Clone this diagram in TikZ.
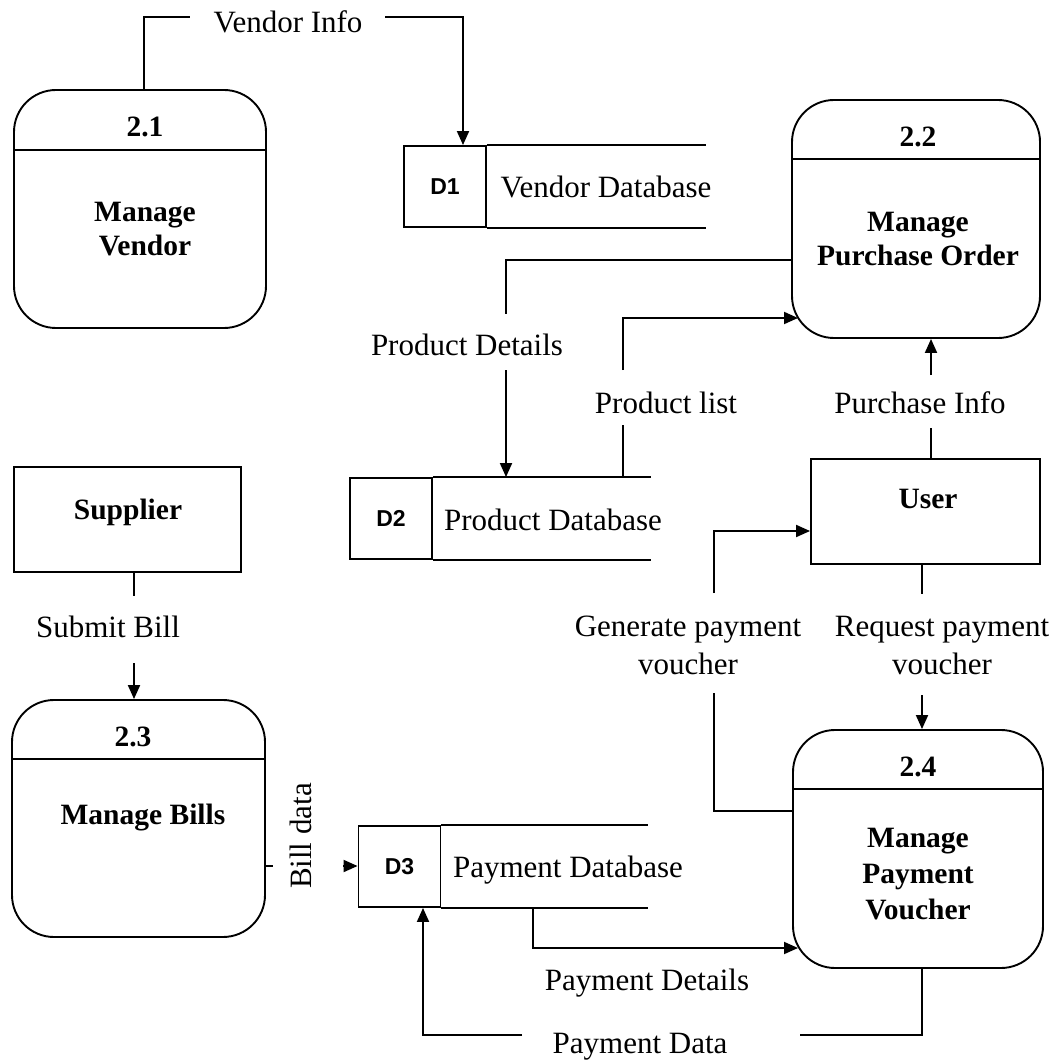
\documentclass[tikz,border=0pt]{standalone}
\usepackage{fontspec}
\setmainfont{Liberation Serif}
\newfontfamily\dsans{Liberation Sans}
\usetikzlibrary{arrows.meta}
\newcommand\lab{\fontsize{31}{38}\selectfont}
\newcommand\blab{\fontsize{29.5}{34.5}\selectfont\bfseries}
\newcommand\dlab{\fontsize{23}{26}\selectfont\dsans\bfseries}
\begin{document}
\begin{tikzpicture}[x=1pt,y=-1pt,
  every path/.style={line width=1.9pt},
  >={Triangle[length=14pt,width=12pt]},
  proc/.style={draw, rounded corners=42pt, inner sep=0pt},
  ent/.style={draw, inner sep=0pt},
  dsid/.style={draw, inner sep=0pt, font=\dlab, minimum width=82pt, minimum height=81pt},
  lbl/.style={inner sep=0pt, font=\lab, align=center},
  blbl/.style={inner sep=0pt, font=\blab, align=center}]
\useasboundingbox (0,0) rectangle (1058,1064);
\fill[white] (0,0) rectangle (1058,1064);

% processes
\node[proc, minimum width=252pt, minimum height=238pt] (p21) at (140,209) {};
\node[proc, minimum width=248pt, minimum height=238pt] (p22) at (916,219) {};
\node[proc, minimum width=253pt, minimum height=237pt] (p23) at (138.5,818.5) {};
\node[proc, minimum width=250pt, minimum height=238pt] (p24) at (918,849) {};
\draw ([yshift=-61pt]p21.north west) -- ([yshift=-61pt]p21.north east);
\draw ([yshift=-60pt]p22.north west) -- ([yshift=-60pt]p22.north east);
\draw ([yshift=-60pt]p23.north west) -- ([yshift=-60pt]p23.north east);
\draw ([yshift=-60pt]p24.north west) -- ([yshift=-60pt]p24.north east);
\node[blbl] (n21) at (145,127) {2.1};
\node[blbl] (t21) at (145,229) {Manage\\Vendor};
\node[blbl] (n22) at (918,137) {2.2};
\node[blbl] (t22) at (918,239) {Manage\\Purchase Order};
\node[blbl] (n23) at (133,737) {2.3};
\node[blbl] (t23) at (143,818) {Manage Bills};
\node[blbl] (n24) at (918,767) {2.4};
\node[blbl, font=\fontsize{29.5}{36}\selectfont\bfseries] (t24) at (918,874) {Manage\\Payment\\Voucher};

% external entities
\node[ent, minimum width=227pt, minimum height=105pt] (sup) at (127.5,519.5) {};
\node[blbl] (supt) at (128,512) {Supplier};
\node[ent, minimum width=229pt, minimum height=105pt] (usr) at (925.5,511.5) {};
\node[blbl] (usrt) at (928,499) {User};

% data stores
\node[dsid] (d1) at (445,186.5) {D1};
\draw (d1.north east) -- ([xshift=219pt]d1.north east);
\draw (d1.south east) -- ([xshift=219pt]d1.south east);
\node[lbl] (d1t) at (606,187) {Vendor Database};
\node[dsid] (d2) at (391,518.5) {D2};
\draw (d2.north east) -- ([xshift=218pt]d2.north east);
\draw (d2.south east) -- ([xshift=218pt]d2.south east);
\node[lbl] (d2t) at (553,520) {Product Database};
\node[dsid] (d3) at (399.5,866.5) {D3};
\draw (d3.north east) -- ([xshift=207pt]d3.north east);
\draw (d3.south east) -- ([xshift=207pt]d3.south east);
\node[lbl] (d3t) at (568,870) {Payment Database};

% flow labels
\node[lbl] (vil) at (288,22) {Vendor Info};
\node[lbl] (pdl) at (467,345) {Product Details};
\node[lbl] (pll) at (666,403) {Product list};
\node[lbl] (pil) at (920,403) {Purchase Info};
\node[lbl] (sbl) at (108,627) {Submit Bill};
\node[lbl] (gpl) at (688,645) {Generate payment\\voucher};
\node[lbl] (rpl) at (942,645) {Request payment\\voucher};
\node[lbl, rotate=90] (bdl) at (301,836) {Bill data};
\node[lbl] (pdtl) at (647,983) {Payment Details};
\node[lbl] (pal) at (640,1047) {Payment Data};

% coordinates for bends and gaps
\coordinate (vi1) at (144,17); \coordinate (vi2) at (190,17);
\coordinate (vi3) at (385,17); \coordinate (vi4) at (463,17);
\coordinate (pd1) at (506,260); \coordinate (pd2) at (506,314); \coordinate (pd3) at (506,370);
\coordinate (pl1) at (623,425); \coordinate (pl2) at (623,370); \coordinate (pl3) at (623,318); \coordinate (pl4) at (798,318);
\coordinate (pi1) at (931,428); \coordinate (pi2) at (931,375);
\coordinate (sb1) at (134,596); \coordinate (sb2) at (134,663);
\coordinate (bd1) at (273,866); \coordinate (bd2) at (343,866);
\coordinate (g1) at (714,811); \coordinate (g2) at (714,693); \coordinate (g3) at (714,593); \coordinate (g4) at (714,531);
\coordinate (r1) at (922,594); \coordinate (r2) at (922,695);
\coordinate (pt1) at (533,948); \coordinate (pt2) at (798,948);
\coordinate (pa1) at (922,1035); \coordinate (pa2) at (800,1035); \coordinate (pa3) at (522,1035); \coordinate (pa4) at (423,1035);

% connectors
\draw ([xshift=4pt]p21.north) -- (vi1) -- (vi2);
\draw[->] (vi3) -- (vi4) -- (vi4 |- d1.north);
\draw (p22.west |- pd1) -- (pd1) -- (pd2);
\draw[->] (pd3) -- (pd3 |- d2.north);
\draw (pl1 |- d2.north) -- (pl1);
\draw[->] (pl2) -- (pl3) -- (pl4);
\draw ([xshift=5.5pt]usr.north) -- (pi1);
\draw[->] (pi2) -- (pi2 |- p22.south);
\draw ([xshift=6.5pt]sup.south) -- (sb1);
\draw[->] (sb2) -- (sb2 |- p23.north);
\draw (p23.east |- bd1) -- (bd1);
\draw[->] (bd2) -- (bd2 -| d3.west);
\draw (p24.west |- g1) -- (g1) -- (g2);
\draw[->] (g3) -- (g4) -- (g4 -| usr.west);
\draw (r1 |- usr.south) -- (r1);
\draw[->] (r2) -- (r2 |- p24.north);
\draw[->] (pt1 |- d3.south) -- (pt1) -- (pt2);
\draw (pa1 |- p24.south) -- (pa1) -- (pa2);
\draw[->] (pa3) -- (pa4) -- (pa4 |- d3.south);
\end{tikzpicture}
\end{document}
